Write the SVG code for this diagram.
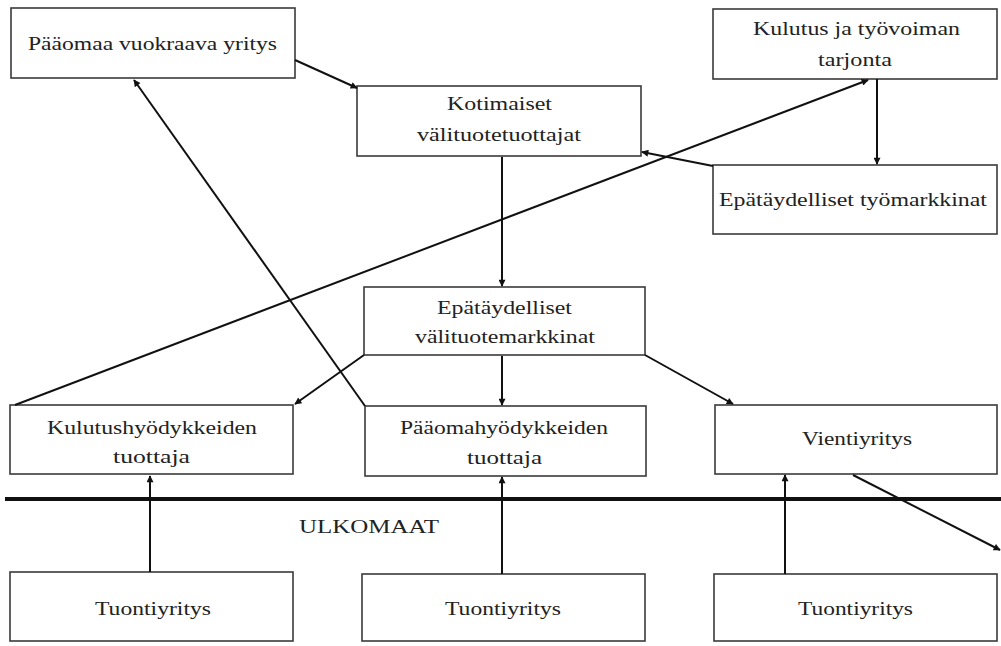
<svg xmlns="http://www.w3.org/2000/svg" width="1001" height="646" viewBox="0 0 1001 646">
<style>
.box{fill:#fff;stroke:#3a3a3a;stroke-width:1.6}
.t{font-family:"Liberation Serif","Times New Roman",serif;font-size:18px;fill:#222}
.c{stroke:#111;stroke-width:2;fill:none;marker-end:url(#a)}
</style>
<defs>
<marker id="a" viewBox="0 0 10 10" refX="9" refY="5" markerWidth="9" markerHeight="7" markerUnits="userSpaceOnUse" orient="auto">
<path d="M0,0 L10,5 L0,10 z" fill="#111"/>
</marker>
</defs>
<rect width="1001" height="646" fill="#fff"/>
<g id="n1"><rect class="box" x="11" y="8" width="284" height="70"/><text class="t" x="28" y="50" textLength="249" lengthAdjust="spacingAndGlyphs">Pääomaa vuokraava yritys</text></g>
<g id="n2"><rect class="box" x="357" y="86" width="284" height="70"/><text class="t" x="447" y="110" textLength="105" lengthAdjust="spacingAndGlyphs">Kotimaiset</text><text class="t" x="417" y="141" textLength="164" lengthAdjust="spacingAndGlyphs">välituotetuottajat</text></g>
<g id="n3"><rect class="box" x="713" y="9" width="284" height="70"/><text class="t" x="753" y="35" textLength="207" lengthAdjust="spacingAndGlyphs">Kulutus ja työvoiman</text><text class="t" x="818" y="66" textLength="74" lengthAdjust="spacingAndGlyphs">tarjonta</text></g>
<g id="n4"><rect class="box" x="713" y="165" width="284" height="69"/><text class="t" x="719" y="206" textLength="268" lengthAdjust="spacingAndGlyphs">Epätäydelliset työmarkkinat</text></g>
<g id="n5"><rect class="box" x="364" y="287" width="281" height="68"/><text class="t" x="437" y="314" textLength="135" lengthAdjust="spacingAndGlyphs">Epätäydelliset</text><text class="t" x="415" y="343" textLength="180" lengthAdjust="spacingAndGlyphs">välituotemarkkinat</text></g>
<g id="n6"><rect class="box" x="10" y="405" width="283" height="69"/><text class="t" x="47" y="434" textLength="210" lengthAdjust="spacingAndGlyphs">Kulutushyödykkeiden</text><text class="t" x="113" y="463" textLength="77" lengthAdjust="spacingAndGlyphs">tuottaja</text></g>
<g id="n7"><rect class="box" x="365" y="406" width="281" height="70"/><text class="t" x="400" y="434" textLength="208" lengthAdjust="spacingAndGlyphs">Pääomahyödykkeiden</text><text class="t" x="467" y="464" textLength="75" lengthAdjust="spacingAndGlyphs">tuottaja</text></g>
<g id="n8"><rect class="box" x="715" y="405" width="282" height="69"/><text class="t" x="802" y="445" textLength="110" lengthAdjust="spacingAndGlyphs">Vientiyritys</text></g>
<g id="n9"><rect class="box" x="10" y="572" width="283" height="69"/><text class="t" x="95" y="615" textLength="116" lengthAdjust="spacingAndGlyphs">Tuontiyritys</text></g>
<g id="n10"><rect class="box" x="362" y="574" width="283" height="67"/><text class="t" x="445" y="615" textLength="116" lengthAdjust="spacingAndGlyphs">Tuontiyritys</text></g>
<g id="n11"><rect class="box" x="714" y="574" width="283" height="67"/><text class="t" x="798" y="615" textLength="115" lengthAdjust="spacingAndGlyphs">Tuontiyritys</text></g>
<g id="border">
<line x1="5" y1="499" x2="1001" y2="499" stroke="#111" stroke-width="4"/>
<text class="t" x="299" y="533" textLength="140" lengthAdjust="spacingAndGlyphs">ULKOMAAT</text>
</g>
<g id="connectors">
<line class="c" x1="295" y1="60" x2="357" y2="88"/>
<line class="c" x1="365" y1="406" x2="134" y2="80"/>
<line class="c" x1="15" y1="405" x2="868" y2="80"/>
<line class="c" x1="877" y1="79" x2="877" y2="164"/>
<line class="c" x1="713" y1="166" x2="642" y2="152"/>
<line class="c" x1="502" y1="157" x2="502" y2="286"/>
<line class="c" x1="364" y1="355" x2="295" y2="404"/>
<line class="c" x1="502" y1="356" x2="502" y2="405"/>
<line class="c" x1="645" y1="355" x2="733" y2="404"/>
<line class="c" x1="853" y1="475" x2="1000" y2="550"/>
<line class="c" x1="150" y1="572" x2="150" y2="476"/>
<line class="c" x1="502" y1="574" x2="502" y2="477"/>
<line class="c" x1="785" y1="574" x2="785" y2="475"/>
</g>
</svg>
